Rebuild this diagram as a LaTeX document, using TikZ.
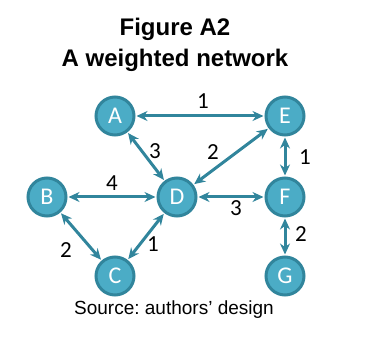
\documentclass[tikz,border=0pt]{standalone}
\usepackage{fontspec}
\setmainfont{Carlito}
\newfontfamily\arialfont{Liberation Sans}
\usepackage{tikz}
\usetikzlibrary{arrows.meta}
\definecolor{netfill}{RGB}{75,172,198}
\definecolor{netline}{RGB}{49,133,156}
\frenchspacing

\begin{document}
\begin{tikzpicture}[x=1pt,y=-1pt,
      v/.style={circle,draw=netline,line width=3pt,fill=netfill,text=white,
        minimum size=38pt,inner sep=0pt,font=\fontsize{24}{24}\selectfont},
      a/.style={{Stealth[length=11pt,width=10pt]}-{Stealth[length=11pt,width=10pt]},
        netline,line width=3pt,shorten <=1pt,shorten >=1pt},
      w/.style={font=\fontsize{23}{23}\selectfont,inner sep=1pt}]
      \useasboundingbox (0,0) rectangle (370,342);
      % title
      \node[font=\arialfont\bfseries\fontsize{24}{24}\selectfont] (ttl) at (175,29) {Figure A2};
      \node[font=\arialfont\bfseries\fontsize{24}{24}\selectfont] (sub) at (175,60) {A weighted network};
      % vertices
      \node[v] (A) at (115,116) {A};
      \node[v] (E) at (285,116) {E};
      \node[v] (B) at (47,197) {B};
      \node[v] (D) at (177,197) {D};
      \node[v] (F) at (285,197) {F};
      \node[v] (C) at (115,276) {C};
      \node[v] (G) at (285,276) {G};
      % edges
      \draw[a] (A)--(E);
      \draw[a] (A)--(D);
      \draw[a] (D)--(E);
      \draw[a] (E)--(F);
      \draw[a] (B)--(D);
      \draw[a] (D)--(F);
      \draw[a] (B)--(C);
      \draw[a] (C)--(D);
      \draw[a] (F)--(G);
      % weights
      \node[w] (wae) at (203,101) {1};
      \node[w] (wad) at (155,151) {3};
      \node[w] (wde) at (213,152) {2};
      \node[w] (wef) at (305,157) {1};
      \node[w] (wbd) at (112,183) {4};
      \node[w] (wdf) at (236,208) {3};
      \node[w] (wbc) at (66,250) {2};
      \node[w] (wcd) at (153,244) {1};
      \node[w] (wfg) at (301,234) {2};
      \node[font=\arialfont\fontsize{19}{19}\selectfont] (src) at (174,310) {Source: authors’ design};
    \end{tikzpicture}
\end{document}
